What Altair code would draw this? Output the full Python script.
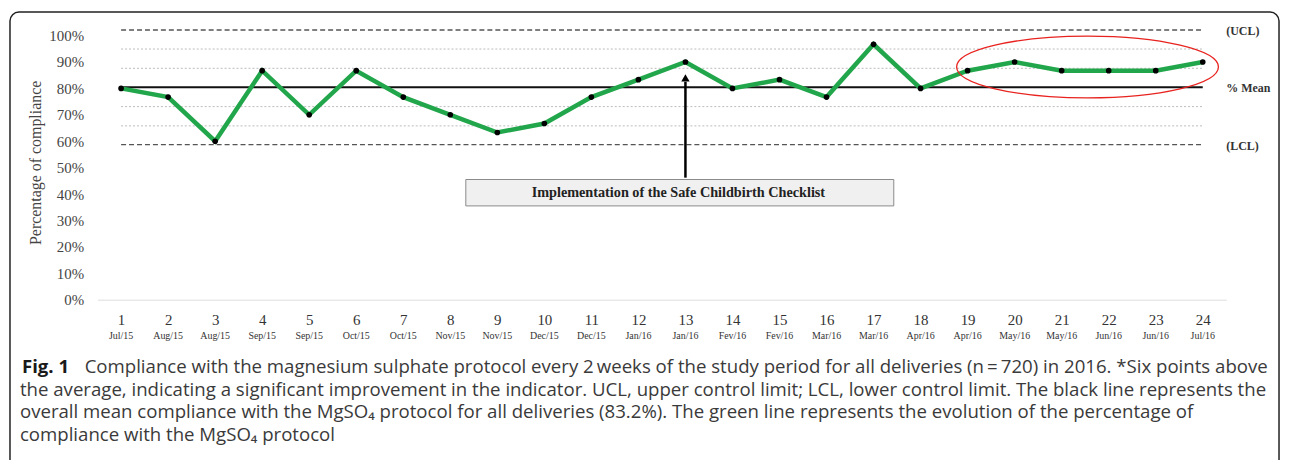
import altair as alt
import pandas as pd

# ---------------- data ----------------
period = list(range(1, 25))
months = ["Jul/15", "Aug/15", "Aug/15", "Sep/15", "Sep/15", "Oct/15", "Oct/15",
          "Nov/15", "Nov/15", "Dec/15", "Dec/15", "Jan/16", "Jan/16", "Fev/16",
          "Fev/16", "Mar/16", "Mar/16", "Apr/16", "Apr/16", "May/16", "May/16",
          "Jun/16", "Jun/16", "Jul/16"]
compliance = [80.0, 76.7, 60.0, 86.7, 70.0, 86.7, 76.7, 70.0, 63.3, 66.7, 76.7, 83.3,
              90.0, 80.0, 83.3, 76.7, 96.7, 80.0, 86.7, 90.0, 86.7, 86.7, 86.7, 90.0]

mean_value = 80.4
ucl_value = 102.1
lcl_value = 58.7
sigma_values = [94.9, 87.6, 73.1, 65.8]
limit_labels = ["(UCL)", "% Mean", "(LCL)"]
y_ticks = [0, 10, 20, 30, 40, 50, 60, 70, 80, 90, 100]

annotation_text = "Implementation of the Safe Childbirth Checklist"
caption_bold = "Fig. 1"
caption_lines = [
    "Compliance with the magnesium sulphate protocol every 2\u2009weeks of the study period for all deliveries (n\u2009=\u2009720) in 2016. *Six points above",
    "the average, indicating a significant improvement in the indicator. UCL, upper control limit; LCL, lower control limit. The black line represents the",
    "overall mean compliance with the MgSO\u2084 protocol for all deliveries (83.2%). The green line represents the evolution of the percentage of",
    "compliance with the MgSO\u2084 protocol",
]

df = pd.DataFrame({"period": period, "month": months, "compliance": compliance})
limits = pd.DataFrame({"label": limit_labels, "value": [ucl_value, mean_value, lcl_value]})
sigmas = pd.DataFrame({"value": sigma_values})
one = pd.DataFrame({"k": [0]})

SERIF = "Liberation Serif"
SANS = "Open Sans"
GREEN = "#22a64b"

xs = alt.Scale(domain=[0.5, 24.5], nice=False, zero=False)
ys = alt.Scale(domain=[0, 104], nice=False, zero=True)

x_axis = alt.Axis(values=period, format="d", title=None, ticks=False, grid=False,
                  domainColor="#dddddd", domainWidth=1, labelFont=SERIF,
                  labelFontSize=15, labelColor="#333333", labelPadding=13)
y_axis = alt.Axis(values=y_ticks, labelExpr="datum.value + '%'",
                  title="Percentage of compliance", ticks=False, domain=False,
                  grid=False, labelFont=SERIF, labelFontSize=15, labelColor="#444444",
                  labelPadding=14, titleFont=SERIF, titleFontSize=16,
                  titleFontWeight="normal", titleColor="#444444", titlePadding=5)


def X(field):
    return alt.X(field, scale=xs, axis=x_axis)


def Y(field):
    return alt.Y(field, scale=ys, axis=y_axis)


def XD(v):
    return alt.XDatum(v, type="quantitative", scale=xs, axis=x_axis)


def YD(v):
    return alt.YDatum(v, type="quantitative", scale=ys, axis=y_axis)


# ---------------- layers ----------------
border = alt.Chart(one).mark_rect(
    fillOpacity=0, stroke="#222222", strokeWidth=1.5, cornerRadius=9
).encode(x=alt.value(-88), x2=alt.value(1187), y=alt.value(-13), y2=alt.value(470))

sigma_rules = alt.Chart(sigmas).mark_rule(
    color="#bbbbbb", strokeWidth=1, strokeDash=[2, 2]
).encode(x=XD(1), x2=alt.X2Datum(24), y=Y("value:Q"))

limit_rules = alt.Chart(limits[limits["label"] != "% Mean"]).mark_rule(
    color="#555555", strokeWidth=1.4, strokeDash=[5, 3]
).encode(x=XD(1), x2=alt.X2Datum(24), y=Y("value:Q"))

mean_rule = alt.Chart(limits[limits["label"] == "% Mean"]).mark_rule(
    color="#111111", strokeWidth=2
).encode(x=XD(1), x2=alt.X2Datum(24), y=Y("value:Q"))

line = alt.Chart(df).mark_line(color=GREEN, strokeWidth=4.5, strokeJoin="miter").encode(
    x=X("period:Q"), y=Y("compliance:Q")
)

dots = alt.Chart(df).mark_point(filled=True, color="#000000", size=32, opacity=1).encode(
    x=X("period:Q"), y=Y("compliance:Q")
)

limit_text = alt.Chart(limits).mark_text(
    align="left", baseline="middle", font=SERIF, fontWeight="bold", fontSize=12,
    color="#333333", dx=0, dy=1
).encode(x=XD(24.5), y=Y("value:Q"), text="label:N")

ellipse_path = ("M -1 0 C -1 -0.1302 -0.5523 -0.2357 0 -0.2357 "
                "C 0.5523 -0.2357 1 -0.1302 1 0 "
                "C 1 0.1302 0.5523 0.2357 0 0.2357 "
                "C -0.5523 0.2357 -1 0.1302 -1 0 Z")
ellipse = alt.Chart(one).mark_point(
    shape=ellipse_path, filled=False, stroke="#e8231f", strokeWidth=1.3,
    size=263 * 263, opacity=1
).encode(x=XD(21.55), y=YD(88.1))

arrow_shaft = alt.Chart(one).mark_rule(color="#000000", strokeWidth=2.5).encode(
    x=XD(13), y=YD(46.2), y2=alt.Y2Datum(82.5)
)
arrow_head = alt.Chart(one).mark_point(
    shape="triangle-up", filled=True, color="#000000", size=70, opacity=1
).encode(x=XD(13), y=YD(84.0))

box = alt.Chart(one).mark_rect(fill="#f0f0f0", stroke="#8a8a8a", strokeWidth=1).encode(
    x=XD(8.33), x2=alt.X2Datum(17.43), y=YD(45.5), y2=alt.Y2Datum(35.5)
)
box_text = alt.Chart(one).mark_text(
    font=SERIF, fontWeight="bold", fontSize=14.3, color="#222222",
    align="center", baseline="middle"
).encode(x=XD(12.85), y=YD(40.4), text=alt.value(annotation_text))

month_text = alt.Chart(df).mark_text(
    font=SERIF, fontSize=10, color="#333333", baseline="middle", align="center"
).encode(x=X("period:Q"), y=alt.value(312.5), text="month:N")

caption_layers = [
    alt.Chart(one).mark_text(
        font=SANS, fontWeight="bold", fontSize=18.7, color="#1a1a1a",
        align="left", baseline="alphabetic"
    ).encode(x=alt.value(-76), y=alt.value(350), text=alt.value(caption_bold))
]
caption_x = [-13, -78, -78, -78]
caption_y = [350, 372.7, 395.3, 418]
for txt, cx, cy in zip(caption_lines, caption_x, caption_y):
    caption_layers.append(
        alt.Chart(one).mark_text(
            font=SANS, fontSize=18.7, color="#3a3a3a",
            align="left", baseline="alphabetic"
        ).encode(x=alt.value(cx), y=alt.value(cy), text=alt.value(txt))
    )

chart = alt.layer(
    border, sigma_rules, limit_rules, mean_rule, line, dots, limit_text, ellipse,
    arrow_shaft, arrow_head, box, box_text, month_text, *caption_layers
).properties(
    width=1134, height=276,
    padding={"left": 90, "top": 16, "right": 56, "bottom": 160},
    autosize=alt.AutoSizeParams(type="none"),
    background="white",
).configure_view(stroke=None)

chart.save("out.html", embed_options={"renderer": "svg", "actions": False})
